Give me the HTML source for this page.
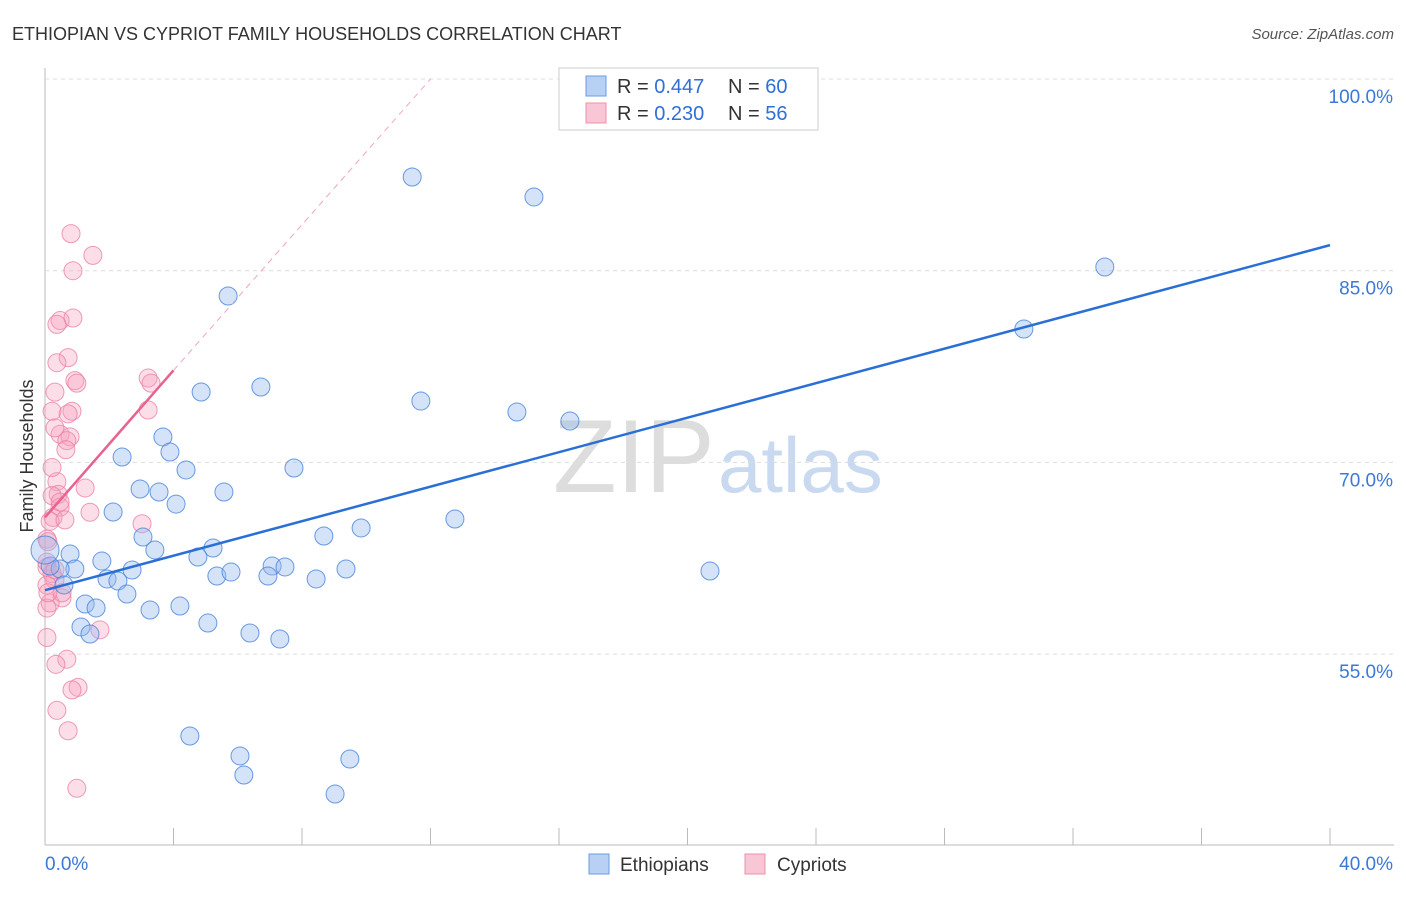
<!DOCTYPE html>
<html><head><meta charset="utf-8"><style>
body{margin:0;background:#fff;font-family:"Liberation Sans",sans-serif;}
svg text{font-family:"Liberation Sans",sans-serif;}
</style></head><body>
<svg id="c" width="1406" height="892">
<text x="12" y="40" font-size="18" fill="#333">ETHIOPIAN VS CYPRIOT FAMILY HOUSEHOLDS CORRELATION CHART</text>
<text x="1394" y="39" font-size="15" fill="#555" font-style="italic" text-anchor="end">Source: ZipAtlas.com</text>
<text x="33" y="456" font-size="18" fill="#333" transform="rotate(-90 33 456)" text-anchor="middle">Family Households</text>
<text x="553" y="492" font-size="104" fill="#ddd" font-family="Liberation Serif">ZIP</text>
<text x="718" y="492" font-size="78" fill="#c9d9f0">atlas</text>
<g id="grid"></g><g id="pts"></g><g id="lines"></g>
<g>
<rect x="559" y="68" width="259" height="62" fill="#fff" stroke="#ccc"/>
<rect x="586" y="76" width="20" height="20" fill="#b8d0f4" stroke="#6a9be0"/>
<rect x="586" y="103" width="20" height="20" fill="#f9c6d6" stroke="#ee90ae"/>
<text x="617" y="93" font-size="20" fill="#333">R = <tspan fill="#2f6fd6">0.447</tspan></text>
<text x="728" y="93" font-size="20" fill="#333">N = <tspan fill="#2f6fd6">60</tspan></text>
<text x="617" y="120" font-size="20" fill="#333">R = <tspan fill="#2f6fd6">0.230</tspan></text>
<text x="728" y="120" font-size="20" fill="#333">N = <tspan fill="#2f6fd6">56</tspan></text>
</g>
<g>
<rect x="589" y="854" width="20" height="20" fill="#b8d0f4" stroke="#6a9be0"/>
<text x="620" y="871" font-size="19" fill="#333">Ethiopians</text>
<rect x="745" y="854" width="20" height="20" fill="#f9c6d6" stroke="#ee90ae"/>
<text x="777" y="871" font-size="19" fill="#333">Cypriots</text>
</g>
</svg>
<script>
const yTicks=[55,70,85,100];
const xTickLabels=["0.0%","40.0%"];
const blueX=[11.43,15.22,32.99,30.47,5.7,4.86,6.72,11.7,14.69,16.34,3.67,3.89,2.4,4.39,7.75,2.96,3.55,4.08,5.57,2.12,12.76,9.84,3.05,8.68,3.42,5.23,0.78,1.77,4.76,2.71,0.93,0.47,0.16,7.07,7.47,9.37,20.7,5.35,5.79,6.94,8.44,1.93,2.27,0.59,2.55,1.25,1.59,3.27,4.2,5.07,1.12,1.4,6.38,7.31,4.51,6.07,9.49,6.19,9.03,0];
const blueY=[92.33,90.77,85.29,80.44,83.02,75.51,75.9,74.8,73.94,73.24,71.99,70.81,70.42,69.41,69.56,67.92,67.68,66.74,67.68,66.12,65.57,64.87,64.16,64.24,63.15,63.3,62.83,62.28,62.6,61.58,61.66,61.66,61.89,61.89,61.82,61.66,61.5,61.11,61.42,61.11,60.88,60.88,60.72,60.41,59.7,58.92,58.61,58.45,58.76,57.43,57.12,56.57,56.65,56.18,48.59,47.03,46.79,45.54,44.05,63.15];
const pinkX=[0.81,1.49,0.87,0.47,0.87,0.37,0.72,0.37,0.93,0.99,3.21,3.3,0.31,3.21,0.22,0.84,0.72,0.47,0.31,0.78,0.68,0.65,0.37,1.25,0.41,0.22,0.47,1.4,0.25,0.16,3.02,0.06,0.06,0.22,0.31,0.06,0.53,0.16,0.06,1.71,0.06,0.68,0.34,1.03,0.84,0.37,0.72,0.99,0.06,0.31,0.53,0.09,0.22,0.47,0.62,0.09];
const pinkY=[87.9,86.2,85.0,81.1,81.3,80.8,78.2,77.8,76.4,76.2,76.6,76.2,75.5,74.1,74.0,74.0,73.8,72.2,72.7,72.0,71.7,71.0,68.5,68.0,67.5,67.4,66.5,66.1,65.7,65.4,65.2,64.0,61.8,61.3,60.8,60.4,59.4,59.0,58.6,56.9,56.3,54.6,54.2,52.4,52.2,50.6,49.0,44.5,62.2,61.6,59.8,59.8,69.6,66.9,65.5,63.8];
const blueFit=[[0,60.0],[40,87.0]];
const pinkFit=[[0,65.7],[4,77.2]];
const pinkExt=[[4,77.2],[12,100]];
const X=v=>45+v*32.125, Y=v=>79+(100-v)*12.78;
const ns="http://www.w3.org/2000/svg";
function mk(t,a,p){const e=document.createElementNS(ns,t);for(const k in a)e.setAttribute(k,a[k]);p.appendChild(e);return e;}
const g=document.getElementById('grid');
const axis=mk('line',{x1:45,y1:68,x2:45,y2:845,stroke:'#bbb'},g);


const xa=mk('line',{x1:45,y1:845,x2:1394,y2:845,stroke:'#bbb'},g);


yTicks.forEach(v=>{
 const l=mk('line',{x1:45,y1:Y(v),x2:1394,y2:Y(v),stroke:'#ddd','stroke-dasharray':'4,4'},g);
 
 
 const t=mk('text',{x:1393,y:Y(v)+24,'font-size':19,fill:'#3b78d8','text-anchor':'end'},g);
 t.textContent=v.toFixed(1)+'%';
 
 
});
for(let i=1;i<=10;i++){const l=mk('line',{x1:X(i*4),y1:828,x2:X(i*4),y2:845,stroke:'#bbb'},g);
 
 }
xTickLabels.forEach((s,i)=>{const t=mk('text',{x:i?1393:45,y:870,'font-size':19,fill:'#3b78d8','text-anchor':i?'end':'start'},g);t.textContent=s;
 
 });
const p=document.getElementById('pts');
pinkX.forEach((x,i)=>{const c=mk('circle',{cx:X(x),cy:Y(pinkY[i]),r:9,fill:'rgba(245,160,190,0.35)',stroke:'rgba(235,130,165,0.8)','stroke-width':1},p);
 
 });
blueX.forEach((x,i)=>{const c=mk('circle',{cx:X(x),cy:Y(blueY[i]),r:i==59?14:9,fill:'rgba(150,185,240,0.4)',stroke:'rgba(70,130,220,0.8)','stroke-width':1},p);
 
 });
const L=document.getElementById('lines');
const bl=mk('line',{x1:X(blueFit[0][0]),y1:Y(blueFit[0][1]),x2:X(blueFit[1][0]),y2:Y(blueFit[1][1]),stroke:'#2a6fd6','stroke-width':2.5},L);


const pl=mk('line',{x1:X(pinkFit[0][0]),y1:Y(pinkFit[0][1]),x2:X(pinkFit[1][0]),y2:Y(pinkFit[1][1]),stroke:'#e8638f','stroke-width':2.5},L);


const pe=mk('line',{x1:X(pinkExt[0][0]),y1:Y(pinkExt[0][1]),x2:X(pinkExt[1][0]),y2:Y(pinkExt[1][1]),stroke:'#f0a8bf','stroke-width':1,'stroke-dasharray':'6,5'},L);


</script>
</body></html>
